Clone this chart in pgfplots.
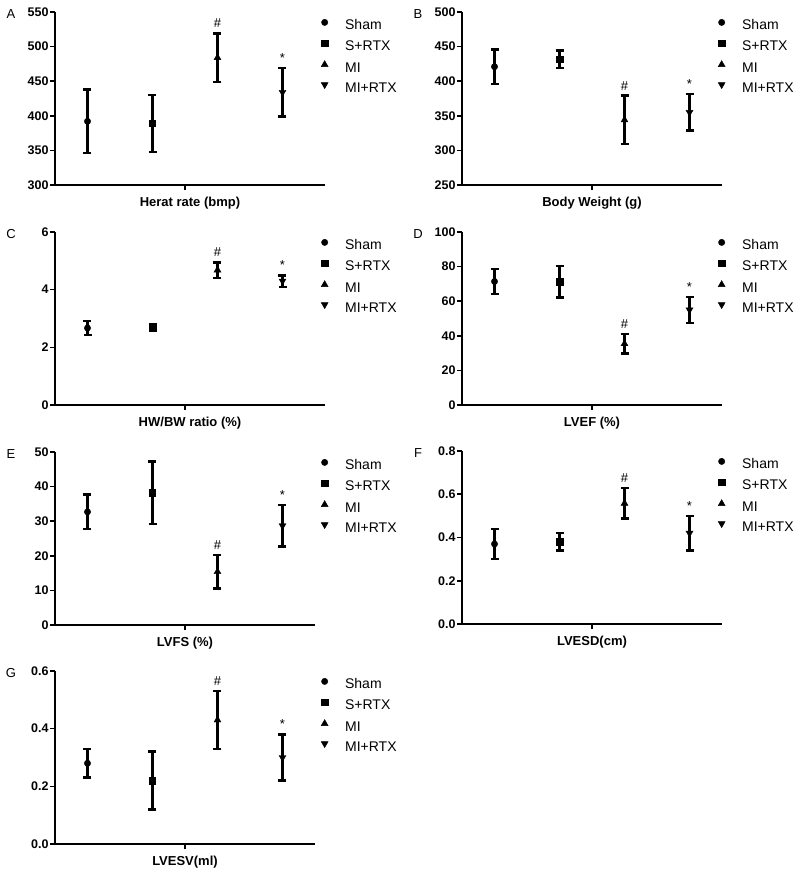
\documentclass[border=0pt]{standalone}
\usepackage{fontspec}
\setmainfont{Liberation Sans}
\usepackage{pgfplots}
\pgfplotsset{compat=1.18}
\pgfplotsset{
  gp/.style={
    scale only axis, x=65pt, height=173pt, xmin=-0.5,
    axis lines*=left,
    axis line style={line width=1.8pt,-},
    every tick/.style={black,line width=1.6pt},
    tick align=outside, major tick length=5pt,
    xtick={1.5}, xticklabels={},
    tick label style={font=\bfseries\fontsize{12.5}{12.5}\selectfont},
    yticklabel style={xshift=2pt},
    /pgf/number format/assume math mode=true,
    xlabel style={font=\bfseries\fontsize{13}{13}\selectfont, at={(axis description cs:0.5,0)}, anchor=base, yshift=-21pt},
    legend style={draw=none, fill=none, at={(axis description cs:1,1)}, anchor=north west, xshift=-4pt, yshift=-7pt,
      font=\fontsize{14}{14}\selectfont, row sep=7pt, inner sep=0pt,
      nodes={inner sep=0pt, text height=10pt, text depth=3pt},
      /tikz/every odd column/.append style={column sep=17pt}},
    legend cell align=left,
    legend image code/.code={\draw[#1] plot coordinates {(0pt,4pt)};},
    clip=false,
  },
  ser/.style={only marks, black, mark size=3.2pt, mark options={fill=black,solid},
    error bars/y dir=both, error bars/y explicit,
    error bars/error bar style={line width=2.5pt, black},
    error bars/error mark options={rotate=90, mark size=4pt, line width=2.5pt, black}},
  tri/.style={mark=triangle*, mark size=4pt},
  itri/.style={mark=triangle*, mark size=4pt, mark options={rotate=180}},
}
\tikzset{
  lab/.style={font=\fontsize{13}{13}\selectfont},
  sig/.style={font=\fontsize{13}{13}\selectfont, anchor=south, yshift=2pt},
}
\newcommand{\panel}[1]{\node[lab] at (axis description cs:0,1) [xshift=-44pt, yshift=-2pt] {#1};}
\newcommand{\leg}{\legend{Sham,S+RTX,MI,MI+RTX}}
\begin{document}
\begin{tikzpicture}
\useasboundingbox (0,0) rectangle (800pt,-871pt);

% A
\begin{axis}[gp, at={(55pt,-185pt)}, anchor=south west, xmax=3.654, ymin=300, ymax=550, ytick distance=50, xlabel={Herat rate (bmp)}]
\addplot[ser, mark=*] coordinates {(0,392) +- (0,46)};
\addplot[ser, mark=square*] coordinates {(1,389) +- (0,41)};
\addplot[ser, tri] coordinates {(2,484) +- (0,35)};
\addplot[ser, itri] coordinates {(3,434) +- (0,35)};
\leg
\panel{A}
\node[sig] at (axis cs:2,519) {\#};
\node[sig] at (axis cs:3,469) {*};
\end{axis}

% B
\begin{axis}[gp, at={(462pt,-185pt)}, anchor=south west, xmax=3.5, ymin=250, ymax=500, ytick distance=50, xlabel={Body Weight (g)}]
\addplot[ser, mark=*] coordinates {(0,421) +- (0,25)};
\addplot[ser, mark=square*] coordinates {(1,432) +- (0,12.7)};
\addplot[ser, tri] coordinates {(2,344) +- (0,35)};
\addplot[ser, itri] coordinates {(3,355) +- (0,26.5)};
\leg
\panel{B}
\node[sig] at (axis cs:2,379) {\#};
\node[sig] at (axis cs:3,381.5) {*};
\end{axis}

% C
\begin{axis}[gp, at={(55pt,-405pt)}, anchor=south west, xmax=3.654, ymin=0, ymax=6, ytick distance=2, xlabel={HW/BW ratio (\%)}]
\addplot[ser, mark=*] coordinates {(0,2.67) +- (0,0.25)};
\addplot[ser, mark=square*] coordinates {(1,2.69) +- (0,0.12)};
\addplot[ser, tri] coordinates {(2,4.68) +- (0,0.27)};
\addplot[ser, itri] coordinates {(3,4.3) +- (0,0.2)};
\leg
\panel{C}
\node[sig] at (axis cs:2,4.95) {\#};
\node[sig] at (axis cs:3,4.5) {*};
\end{axis}

% D
\begin{axis}[gp, at={(462pt,-405pt)}, anchor=south west, xmax=3.5, ymin=0, ymax=100, ytick distance=20, xlabel={LVEF (\%)}]
\addplot[ser, mark=*] coordinates {(0,71.4) +- (0,7.2)};
\addplot[ser, mark=square*] coordinates {(1,71.2) +- (0,9.2)};
\addplot[ser, tri] coordinates {(2,35.4) +- (0,5.6)};
\addplot[ser, itri] coordinates {(3,55) +- (0,7.5)};
\leg
\panel{D}
\node[sig] at (axis cs:2,41) {\#};
\node[sig] at (axis cs:3,62.5) {*};
\end{axis}

% E
\begin{axis}[gp, at={(55pt,-625pt)}, anchor=south west, xmax=3.5, ymin=0, ymax=50, ytick distance=10, xlabel={LVFS (\%)},
  legend style={xshift=10pt}]
\addplot[ser, mark=*] coordinates {(0,32.7) +- (0,5)};
\addplot[ser, mark=square*] coordinates {(1,38.2) +- (0,9)};
\addplot[ser, tri] coordinates {(2,15.4) +- (0,4.9)};
\addplot[ser, itri] coordinates {(3,28.7) +- (0,6)};
\leg
\panel{E}
\node[sig] at (axis cs:2,20.3) {\#};
\node[sig] at (axis cs:3,34.7) {*};
\end{axis}

% F
\begin{axis}[gp, at={(462pt,-624pt)}, anchor=south west, xmax=3.5, ymin=0, ymax=0.8, ytick distance=0.2, xlabel={LVESD(cm)},
  yticklabel style={/pgf/number format/.cd, fixed, fixed zerofill, precision=1}]
\addplot[ser, mark=*] coordinates {(0,0.37) +- (0,0.07)};
\addplot[ser, mark=square*] coordinates {(1,0.38) +- (0,0.04)};
\addplot[ser, tri] coordinates {(2,0.558) +- (0,0.07)};
\addplot[ser, itri] coordinates {(3,0.42) +- (0,0.08)};
\leg
\panel{F}
\node[sig] at (axis cs:2,0.628) {\#};
\node[sig] at (axis cs:3,0.5) {*};
\end{axis}

% G
\begin{axis}[gp, at={(55pt,-844pt)}, anchor=south west, xmax=3.5, ymin=0, ymax=0.6, ytick distance=0.2, xlabel={LVESV(ml)},
  legend style={xshift=10pt},
  yticklabel style={/pgf/number format/.cd, fixed, fixed zerofill, precision=1}]
\addplot[ser, mark=*] coordinates {(0,0.28) +- (0,0.05)};
\addplot[ser, mark=square*] coordinates {(1,0.22) +- (0,0.10)};
\addplot[ser, tri] coordinates {(2,0.43) +- (0,0.10)};
\addplot[ser, itri] coordinates {(3,0.30) +- (0,0.08)};
\leg
\panel{G}
\node[sig] at (axis cs:2,0.53) {\#};
\node[sig] at (axis cs:3,0.38) {*};
\end{axis}
\end{tikzpicture}
\end{document}
